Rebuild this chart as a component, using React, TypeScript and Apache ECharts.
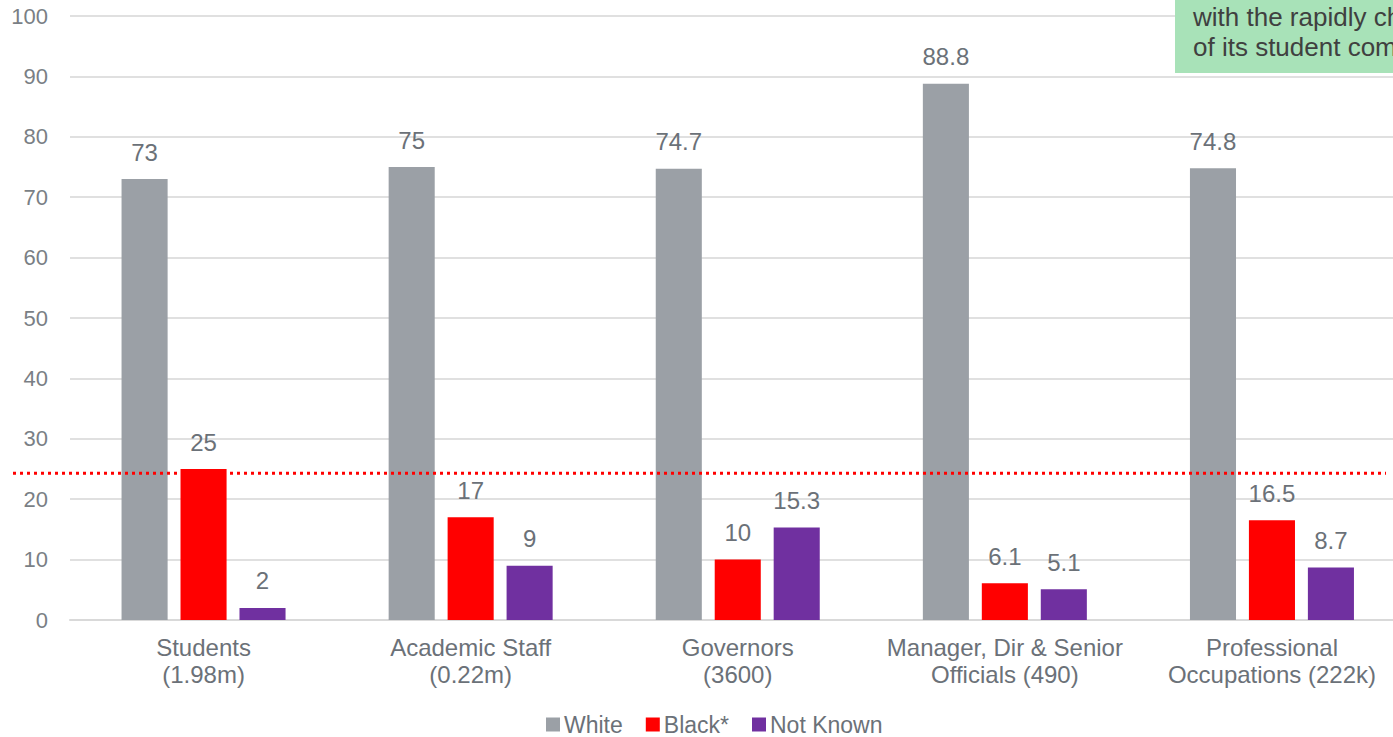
import React, { useEffect, useRef } from "react";
import * as echarts from "echarts";

const categories = [
  "Students\n(1.98m)",
  "Academic Staff\n(0.22m)",
  "Governors\n(3600)",
  "Manager, Dir & Senior\nOfficials (490)",
  "Professional\nOccupations (222k)",
];
const whiteValues = [73, 75, 74.7, 88.8, 74.8];
const blackValues = [25, 17, 10, 6.1, 16.5];
const notKnownValues = [2, 9, 15.3, 5.1, 8.7];
const referenceValue = 24.3;
const noteLines = ["with the rapidly changing", "of its student community"];

const labelColor = "#6b7178";
const font = "Liberation Sans, Arial, sans-serif";

export default function App() {
  const ref = useRef<HTMLDivElement>(null);
  useEffect(() => {
    document.body.style.margin = "0";
    if (!ref.current) return;
    const chart = echarts.init(ref.current, undefined, { renderer: "svg" });
    const mkSeries = (name: string, data: number[], color: string) => ({
      name,
      type: "bar",
      data,
      barGap: "28%",
      barCategoryGap: "38.6%",
      itemStyle: { color },
      label: {
        show: true,
        position: "top",
        distance: 15,
        fontSize: 24,
        color: labelColor,
        fontFamily: font,
      },
    });
    chart.setOption({
      animation: false,
      textStyle: { fontFamily: font },
      grid: { left: 70, right: 4.5, top: 16, bottom: 117, containLabel: false },
      legend: {
        top: 708,
        left: 541,
        itemWidth: 14,
        itemHeight: 14,
        itemGap: 23,
        icon: "rect",
        textStyle: { fontSize: 23, color: labelColor, padding: [0, 0, 0, -1] },
        data: ["White", "Black*", "Not Known"],
      },
      xAxis: {
        type: "category",
        data: categories,
        axisLine: { show: true, lineStyle: { color: "#d9d9d9", width: 2 } },
        axisTick: { show: false },
        axisLabel: {
          fontSize: 24,
          color: labelColor,
          lineHeight: 27,
          margin: 14,
          interval: 0,
        },
      },
      yAxis: {
        type: "value",
        min: 0,
        max: 100,
        interval: 10,
        axisLine: { show: false },
        axisTick: { show: false },
        splitLine: { lineStyle: { color: "#e0e0e0", width: 2 } },
        axisLabel: { fontSize: 22, color: "#7a7f85", margin: 22 },
      },
      series: [
        mkSeries("White", whiteValues, "#9ba0a6"),
        mkSeries("Black*", blackValues, "#ff0000"),
        mkSeries("Not Known", notKnownValues, "#7030a0"),
      ],
    });
    const yRef = chart.convertToPixel({ yAxisIndex: 0 }, referenceValue) as number;
    chart.setOption({
      graphic: [
        {
          type: "line",
          shape: { x1: 13, y1: yRef, x2: 1386, y2: yRef },
          style: { stroke: "#ff0000", lineWidth: 3, lineDash: [3, 4] },
          z: 10,
        },
        {
          type: "rect",
          shape: { x: 1175, y: 0, width: 260, height: 73 },
          style: { fill: "#a8e2b8" },
          z: 20,
        },
        {
          type: "text",
          x: 1193,
          y: 2,
          style: {
            text: noteLines.join("\n"),
            fontSize: 26,
            lineHeight: 30,
            fill: "#404040",
            fontFamily: font,
          },
          z: 21,
        },
      ],
    });
    return () => chart.dispose();
  }, []);
  return (
    <div style={{ width: 1393, height: 737, overflow: "hidden", position: "relative" }}>
      <div ref={ref} style={{ width: 1410, height: 737 }} />
    </div>
  );
}
